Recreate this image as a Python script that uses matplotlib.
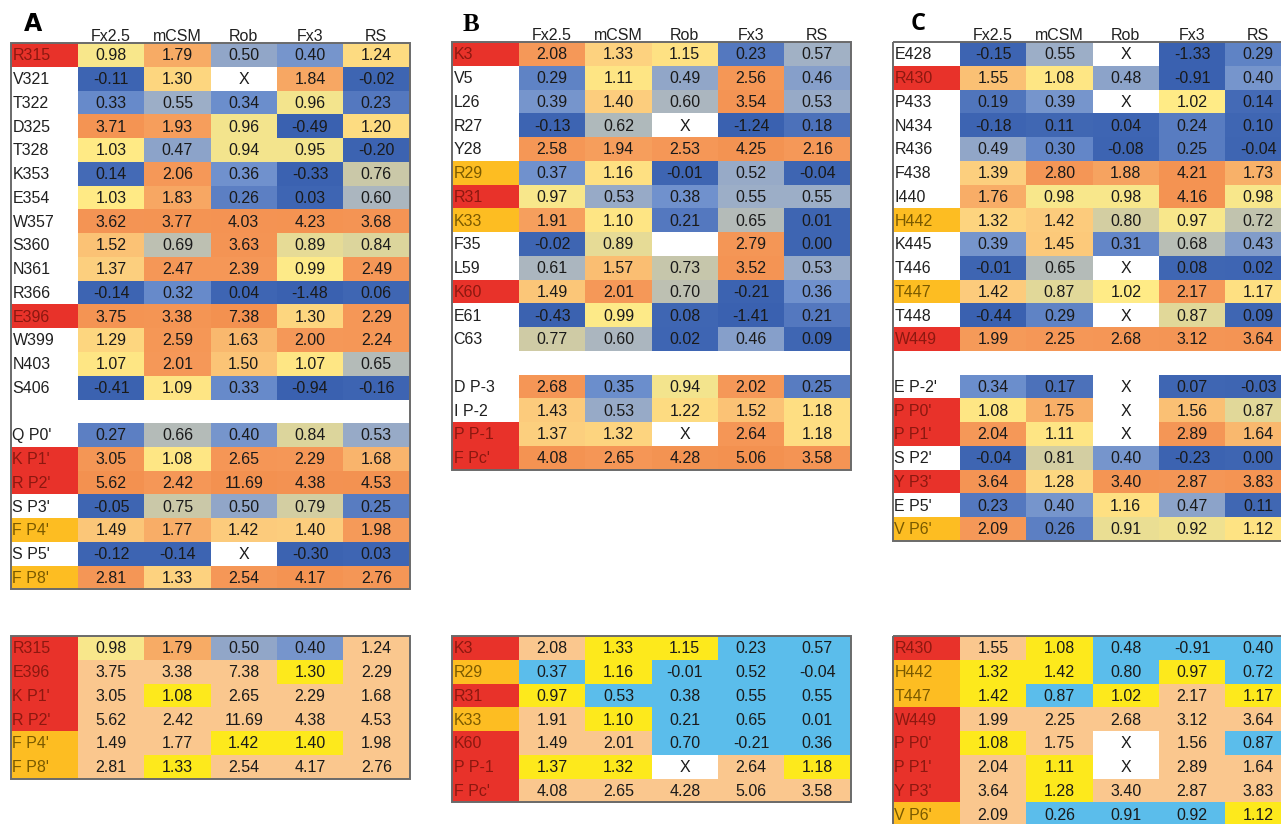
import matplotlib
matplotlib.use("Agg")
import matplotlib.pyplot as plt
from matplotlib.colors import LinearSegmentedColormap, Normalize
from matplotlib.patches import Rectangle

plt.rcParams['font.family'] = ['Liberation Sans', 'DejaVu Sans']

methods = ['Fx2.5', 'mCSM', 'Rob', 'Fx3', 'RS']

# ddG predictions per residue; 'X' = no prediction, '' = empty cell, None row = spacer
a_rows = ['R315', 'V321', 'T322', 'D325', 'T328', 'K353', 'E354', 'W357', 'S360',
          'N361', 'R366', 'E396', 'W399', 'N403', 'S406', None,
          "Q P0'", "K P1'", "R P2'", "S P3'", "F P4'", "S P5'", "F P8'"]
a_vals = [[0.98, 1.79, 0.50, 0.40, 1.24],
          [-0.11, 1.30, 'X', 1.84, -0.02],
          [0.33, 0.55, 0.34, 0.96, 0.23],
          [3.71, 1.93, 0.96, -0.49, 1.20],
          [1.03, 0.47, 0.94, 0.95, -0.20],
          [0.14, 2.06, 0.36, -0.33, 0.76],
          [1.03, 1.83, 0.26, 0.03, 0.60],
          [3.62, 3.77, 4.03, 4.23, 3.68],
          [1.52, 0.69, 3.63, 0.89, 0.84],
          [1.37, 2.47, 2.39, 0.99, 2.49],
          [-0.14, 0.32, 0.04, -1.48, 0.06],
          [3.75, 3.38, 7.38, 1.30, 2.29],
          [1.29, 2.59, 1.63, 2.00, 2.24],
          [1.07, 2.01, 1.50, 1.07, 0.65],
          [-0.41, 1.09, 0.33, -0.94, -0.16],
          None,
          [0.27, 0.66, 0.40, 0.84, 0.53],
          [3.05, 1.08, 2.65, 2.29, 1.68],
          [5.62, 2.42, 11.69, 4.38, 4.53],
          [-0.05, 0.75, 0.50, 0.79, 0.25],
          [1.49, 1.77, 1.42, 1.40, 1.98],
          [-0.12, -0.14, 'X', -0.30, 0.03],
          [2.81, 1.33, 2.54, 4.17, 2.76]]
# label highlight: r = hot spot, o = warm spot, w = none
a_mark = 'rwwwwwwwwwwrwww' + 'w' + 'wrrwowo'

b_rows = ['K3', 'V5', 'L26', 'R27', 'Y28', 'R29', 'R31', 'K33', 'F35', 'L59',
          'K60', 'E61', 'C63', None, 'D P-3', 'I P-2', 'P P-1', "F Pc'"]
b_vals = [[2.08, 1.33, 1.15, 0.23, 0.57],
          [0.29, 1.11, 0.49, 2.56, 0.46],
          [0.39, 1.40, 0.60, 3.54, 0.53],
          [-0.13, 0.62, 'X', -1.24, 0.18],
          [2.58, 1.94, 2.53, 4.25, 2.16],
          [0.37, 1.16, -0.01, 0.52, -0.04],
          [0.97, 0.53, 0.38, 0.55, 0.55],
          [1.91, 1.10, 0.21, 0.65, 0.01],
          [-0.02, 0.89, '', 2.79, 0.00],
          [0.61, 1.57, 0.73, 3.52, 0.53],
          [1.49, 2.01, 0.70, -0.21, 0.36],
          [-0.43, 0.99, 0.08, -1.41, 0.21],
          [0.77, 0.60, 0.02, 0.46, 0.09],
          None,
          [2.68, 0.35, 0.94, 2.02, 0.25],
          [1.43, 0.53, 1.22, 1.52, 1.18],
          [1.37, 1.32, 'X', 2.64, 1.18],
          [4.08, 2.65, 4.28, 5.06, 3.58]]
b_mark = 'rwwwworowwrww' + 'w' + 'wwrr'

c_rows = ['E428', 'R430', 'P433', 'N434', 'R436', 'F438', 'I440', 'H442', 'K445',
          'T446', 'T447', 'T448', 'W449', None,
          "E P-2'", "P P0'", "P P1'", "S P2'", "Y P3'", "E P5'", "V P6'"]
c_vals = [[-0.15, 0.55, 'X', -1.33, 0.29],
          [1.55, 1.08, 0.48, -0.91, 0.40],
          [0.19, 0.39, 'X', 1.02, 0.14],
          [-0.18, 0.11, 0.04, 0.24, 0.10],
          [0.49, 0.30, -0.08, 0.25, -0.04],
          [1.39, 2.80, 1.88, 4.21, 1.73],
          [1.76, 0.98, 0.98, 4.16, 0.98],
          [1.32, 1.42, 0.80, 0.97, 0.72],
          [0.39, 1.45, 0.31, 0.68, 0.43],
          [-0.01, 0.65, 'X', 0.08, 0.02],
          [1.42, 0.87, 1.02, 2.17, 1.17],
          [-0.44, 0.29, 'X', 0.87, 0.09],
          [1.99, 2.25, 2.68, 3.12, 3.64],
          None,
          [0.34, 0.17, 'X', 0.07, -0.03],
          [1.08, 1.75, 'X', 1.56, 0.87],
          [2.04, 1.11, 'X', 2.89, 1.64],
          [-0.04, 0.81, 0.40, -0.23, 0.00],
          [3.64, 1.28, 3.40, 2.87, 3.83],
          [0.23, 0.40, 1.16, 0.47, 0.11],
          [2.09, 0.26, 0.91, 0.92, 1.12]]
c_mark = 'wrwwwwwowwowr' + 'w' + 'wrrwrwo'

# summary tables: highlighted residues with agreement class per method
# h = keep heat colour, p = destabilising, y = borderline, b = neutral, w = none
a_sub = ['R315', 'E396', "K P1'", "R P2'", "F P4'", "F P8'"]
a_cls = ['hhhhp', 'pppyp', 'pyppp', 'ppppp', 'ppyyp', 'pyppp']
b_sub = ['K3', 'R29', 'R31', 'K33', 'K60', 'P P-1', "F Pc'"]
b_cls = ['pyybb', 'bybbb', 'ybbbb', 'pybbb', 'ppbbb', 'yywpy', 'ppppp']
c_sub = ['R430', 'H442', 'T447', 'W449', "P P0'", "P P1'", "Y P3'", "V P6'"]
c_cls = ['pybbb', 'yybyb', 'ybypy', 'ppppp', 'ypwpb', 'pywpp', 'pyppp', 'pbbby']

# heat scale: blue (low) -> yellow (~1) -> orange (>=2)
stops = [(-0.5, '#3a61b0'), (0.1, '#3f66b3'), (0.35, '#6d8fcd'), (0.55, '#a0b0c6'),
         (0.75, '#cac8a8'), (1.0, '#ffec86'), (1.4, '#fccd7d'), (2.0, '#f59858'),
         (5.0, '#f39150')]
lo, hi = stops[0][0], stops[-1][0]
heat = LinearSegmentedColormap.from_list(
    'heat', [((v - lo) / (hi - lo), c) for v, c in stops])
norm = Normalize(lo, hi, clip=True)

label_fill = {'r': '#e8322a', 'o': '#fdbd22', 'w': 'white'}
label_text = {'r': '#8c1810', 'o': '#7a5a00', 'w': '#202020'}
class_fill = {'p': '#fac78e', 'y': '#fde91c', 'b': '#5bbdeb', 'w': 'white'}

ROW_H = 23.75
LAB_W = 67
COL_W = 66.3
FS = 11.5


def draw_table(ax, x0, y0, rows, vals, marks, classes=None, header=True):
    n = len(rows)
    if header:
        for j, m in enumerate(methods):
            ax.text(x0 + LAB_W + (j + 0.5) * COL_W, y0 - 7, m, ha='center',
                    va='center', fontsize=FS, color='#202020')
    for i, (name, row, mk) in enumerate(zip(rows, vals, marks)):
        y = y0 + i * ROW_H
        if name is None:
            continue
        ax.add_patch(Rectangle((x0, y), LAB_W, ROW_H, facecolor=label_fill[mk],
                               edgecolor='none'))
        ax.text(x0 + 1.5, y + ROW_H / 2 + 1, name, ha='left', va='center',
                fontsize=FS, color=label_text[mk])
        for j, v in enumerate(row):
            x = x0 + LAB_W + j * COL_W
            if isinstance(v, str):
                fc = 'white'
            elif classes is None or classes[i][j] == 'h':
                fc = heat(norm(v))
            else:
                fc = class_fill[classes[i][j]]
            ax.add_patch(Rectangle((x, y), COL_W + 0.6, ROW_H + 0.6,
                                   facecolor=fc, edgecolor='none'))
            txt = v if isinstance(v, str) else f'{v:.2f}'
            ax.text(x + COL_W / 2, y + ROW_H / 2 + 1, txt, ha='center',
                    va='center', fontsize=FS, color='#1a1a1a')
    ax.add_patch(Rectangle((x0, y0), LAB_W + 5 * COL_W, n * ROW_H,
                           facecolor='none', edgecolor='#6a6a6a', lw=1.4))


def subset(rows, vals, marks, names):
    idx = [rows.index(nm) for nm in names]
    return names, [vals[k] for k in idx], [marks[k] for k in idx]


fig = plt.figure(figsize=(12.81, 8.24), dpi=100)
ax = fig.add_axes([0, 0, 1, 1])
ax.set_xlim(0, 1281)
ax.set_ylim(824, 0)
ax.axis('off')

panels = [(11, 43, a_rows, a_vals, a_mark, a_sub, a_cls),
          (452, 42, b_rows, b_vals, b_mark, b_sub, b_cls),
          (893, 42, c_rows, c_vals, c_mark, c_sub, c_cls)]
for x0, y0, rows, vals, marks, sub, cls in panels:
    draw_table(ax, x0, y0, rows, vals, marks)
    s_rows, s_vals, s_marks = subset(rows, vals, marks, sub)
    draw_table(ax, x0, 636, s_rows, s_vals, s_marks, classes=cls, header=False)

ax.text(33, 24, 'A', ha='center', va='center', fontsize=17, fontweight='bold',
        family='DejaVu Sans')
ax.text(471, 24, 'B', ha='center', va='center', fontsize=18, fontweight='bold',
        family='Liberation Serif')
ax.text(918, 24, 'C', ha='center', va='center', fontsize=17, fontweight='bold',
        family='Open Sans')

fig.savefig('out.png', dpi=100)
